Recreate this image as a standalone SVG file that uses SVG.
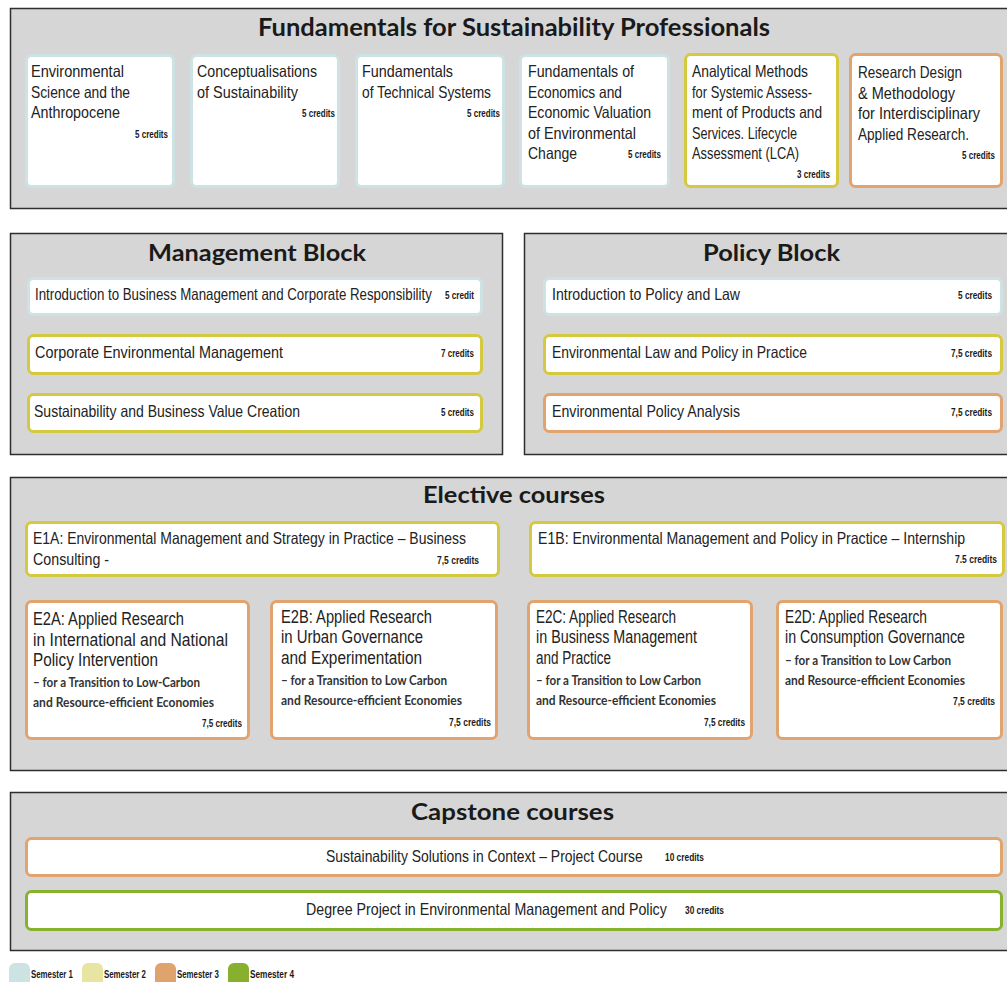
<svg xmlns="http://www.w3.org/2000/svg" width="1007" height="982" viewBox="0 0 1007 982">
<style>
.bg{fill:#ffffff}
.blk{fill:#d6d6d6;stroke:#2e2e2e;stroke-width:1.5}
.card{fill:#ffffff;stroke-width:3}
.s1{stroke:#cde3e3}
.s2{stroke:#d5c93f}
.s3{stroke:#e2a46e}
.s4{stroke:#87b22d}
.ttl{font-family:Lato,"Open Sans","Liberation Sans",sans-serif;font-weight:bold;fill:#1a1a1a;text-anchor:start}
.t{font-family:"Liberation Sans","DejaVu Sans",sans-serif;font-size:16.5px;fill:#222222}
.tb{font-family:"Liberation Sans","DejaVu Sans",sans-serif;font-size:17.5px;fill:#222222}
.sub{font-family:Lato,"Liberation Sans",sans-serif;font-weight:bold;font-size:13px;fill:#333333}
.cr{font-family:"Liberation Sans","DejaVu Sans",sans-serif;font-weight:bold;font-size:10px;fill:#1a1a1a}
.lg{font-family:"Liberation Sans","DejaVu Sans",sans-serif;font-weight:bold;font-size:10px;fill:#1a1a1a}
</style>
<rect class="bg" x="0" y="0" width="1007" height="982"/>

<g id="block-fundamentals">
<rect class="blk" x="10.5" y="8.5" width="1010" height="200"/>
<text class="ttl" x="258" y="36" font-size="25" textLength="512" lengthAdjust="spacingAndGlyphs">Fundamentals for Sustainability Professionals</text>
</g>
<g id="node-env-science">
<rect class="card s1" x="26.5" y="55.5" width="147" height="131" rx="5"/>
<text class="t" x="31" y="77" textLength="93" lengthAdjust="spacingAndGlyphs">Environmental</text>
<text class="t" x="31" y="97.5" textLength="99" lengthAdjust="spacingAndGlyphs">Science and the</text>
<text class="t" x="31" y="118" textLength="89" lengthAdjust="spacingAndGlyphs">Anthropocene</text>
<text class="cr" x="135" y="138" textLength="33" lengthAdjust="spacingAndGlyphs">5 credits</text>
</g>
<g id="node-conceptualisations">
<rect class="card s1" x="191.5" y="55.5" width="147" height="131" rx="5"/>
<text class="t" x="197" y="77" textLength="120" lengthAdjust="spacingAndGlyphs">Conceptualisations</text>
<text class="t" x="197" y="97.5" textLength="101" lengthAdjust="spacingAndGlyphs">of Sustainability</text>
<text class="cr" x="302" y="117" textLength="33" lengthAdjust="spacingAndGlyphs">5 credits</text>
</g>
<g id="node-technical-systems">
<rect class="card s1" x="356.5" y="55.5" width="147" height="131" rx="5"/>
<text class="t" x="362" y="77" textLength="91" lengthAdjust="spacingAndGlyphs">Fundamentals</text>
<text class="t" x="362" y="97.5" textLength="129" lengthAdjust="spacingAndGlyphs">of Technical Systems</text>
<text class="cr" x="467" y="117" textLength="33" lengthAdjust="spacingAndGlyphs">5 credits</text>
</g>
<g id="node-economics">
<rect class="card s1" x="520.5" y="55.5" width="148" height="131" rx="5"/>
<text class="t" x="528" y="77" textLength="106" lengthAdjust="spacingAndGlyphs">Fundamentals of</text>
<text class="t" x="528" y="97.5" textLength="94" lengthAdjust="spacingAndGlyphs">Economics and</text>
<text class="t" x="528" y="118" textLength="123" lengthAdjust="spacingAndGlyphs">Economic Valuation</text>
<text class="t" x="528" y="138.5" textLength="108" lengthAdjust="spacingAndGlyphs">of Environmental</text>
<text class="t" x="528" y="159" textLength="49" lengthAdjust="spacingAndGlyphs">Change</text>
<text class="cr" x="628" y="158" textLength="33" lengthAdjust="spacingAndGlyphs">5 credits</text>
</g>
<g id="node-lca">
<rect class="card s2" x="685.5" y="54.5" width="152" height="132" rx="5"/>
<text class="t" x="692" y="77" textLength="116" lengthAdjust="spacingAndGlyphs">Analytical Methods</text>
<text class="t" x="692" y="97.5" textLength="120" lengthAdjust="spacingAndGlyphs">for Systemic Assess-</text>
<text class="t" x="692" y="118" textLength="130" lengthAdjust="spacingAndGlyphs">ment of Products and</text>
<text class="t" x="692" y="138.5" textLength="105" lengthAdjust="spacingAndGlyphs">Services. Lifecycle</text>
<text class="t" x="692" y="159" textLength="107" lengthAdjust="spacingAndGlyphs">Assessment (LCA)</text>
<text class="cr" x="797" y="178" textLength="33" lengthAdjust="spacingAndGlyphs">3 credits</text>
</g>
<g id="node-research-design">
<rect class="card s3" x="850.5" y="54.5" width="151" height="132" rx="5"/>
<text class="t" x="858" y="78" textLength="104" lengthAdjust="spacingAndGlyphs">Research Design</text>
<text class="t" x="858" y="98.5" textLength="97" lengthAdjust="spacingAndGlyphs">&amp; Methodology</text>
<text class="t" x="858" y="119" textLength="122" lengthAdjust="spacingAndGlyphs">for Interdisciplinary</text>
<text class="t" x="858" y="139.5" textLength="111" lengthAdjust="spacingAndGlyphs">Applied Research.</text>
<text class="cr" x="962" y="159" textLength="33" lengthAdjust="spacingAndGlyphs">5 credits</text>
</g>

<g id="block-management">
<rect class="blk" x="10.5" y="233.5" width="492" height="221"/>
<text class="ttl" x="148" y="261" font-size="22" textLength="218" lengthAdjust="spacingAndGlyphs">Management Block</text>
</g>
<g id="node-intro-business">
<rect class="card s1" x="28.5" y="278.5" width="453" height="36" rx="5"/>
<text class="t" x="0" y="0" transform="translate(35,300) scale(0.8,1)" textLength="496" lengthAdjust="spacingAndGlyphs">Introduction to Business Management and Corporate Responsibility</text>
<text class="cr" x="445" y="299" textLength="29" lengthAdjust="spacingAndGlyphs">5 credit</text>
</g>
<g id="node-corp-env">
<rect class="card s2" x="28.5" y="335.5" width="453" height="38" rx="5"/>
<text class="t" x="35" y="358" textLength="248" lengthAdjust="spacingAndGlyphs">Corporate Environmental Management</text>
<text class="cr" x="441" y="357" textLength="33" lengthAdjust="spacingAndGlyphs">7 credits</text>
</g>
<g id="node-business-value">
<rect class="card s2" x="28.5" y="394.5" width="453" height="37" rx="5"/>
<text class="t" x="34" y="417" textLength="266" lengthAdjust="spacingAndGlyphs">Sustainability and Business Value Creation</text>
<text class="cr" x="441" y="416" textLength="33" lengthAdjust="spacingAndGlyphs">5 credits</text>
</g>

<g id="block-policy">
<rect class="blk" x="524.5" y="233.5" width="500" height="221"/>
<text class="ttl" x="703" y="261" font-size="22" textLength="137" lengthAdjust="spacingAndGlyphs">Policy Block</text>
</g>
<g id="node-intro-policy">
<rect class="card s1" x="544.5" y="278.5" width="457" height="36" rx="5"/>
<text class="t" x="552" y="300" textLength="188" lengthAdjust="spacingAndGlyphs">Introduction to Policy and Law</text>
<text class="cr" x="958" y="299" textLength="34" lengthAdjust="spacingAndGlyphs">5 credits</text>
</g>
<g id="node-env-law">
<rect class="card s2" x="544.5" y="335.5" width="457" height="38" rx="5"/>
<text class="t" x="552" y="358" textLength="255" lengthAdjust="spacingAndGlyphs">Environmental Law and Policy in Practice</text>
<text class="cr" x="951" y="357" textLength="41" lengthAdjust="spacingAndGlyphs">7,5 credits</text>
</g>
<g id="node-policy-analysis">
<rect class="card s3" x="544.5" y="394.5" width="457" height="37" rx="5"/>
<text class="t" x="552" y="417" textLength="188" lengthAdjust="spacingAndGlyphs">Environmental Policy Analysis</text>
<text class="cr" x="951" y="416" textLength="41" lengthAdjust="spacingAndGlyphs">7,5 credits</text>
</g>

<g id="block-elective">
<rect class="blk" x="10.5" y="477.5" width="1010" height="293"/>
<text class="ttl" x="423" y="503" font-size="22" textLength="182" lengthAdjust="spacingAndGlyphs">Elective courses</text>
</g>
<g id="node-e1a">
<rect class="card s2" x="26.5" y="522.5" width="472" height="53" rx="5"/>
<text class="t" x="33" y="544" textLength="433" lengthAdjust="spacingAndGlyphs">E1A: Environmental Management and Strategy in Practice – Business</text>
<text class="t" x="33" y="565" textLength="76" lengthAdjust="spacingAndGlyphs">Consulting -</text>
<text class="cr" x="437" y="564" textLength="42" lengthAdjust="spacingAndGlyphs">7,5 credits</text>
</g>
<g id="node-e1b">
<rect class="card s2" x="530.5" y="522.5" width="473" height="53" rx="5"/>
<text class="t" x="0" y="0" transform="translate(538,544) scale(0.8,1)" textLength="534" lengthAdjust="spacingAndGlyphs">E1B: Environmental Management and Policy in Practice – Internship</text>
<text class="cr" x="955" y="563" textLength="42" lengthAdjust="spacingAndGlyphs">7.5 credits</text>
</g>
<g id="node-e2a">
<rect class="card s3" x="26.5" y="601.5" width="222" height="137" rx="5"/>
<text class="tb" x="33" y="625" textLength="151" lengthAdjust="spacingAndGlyphs">E2A: Applied Research</text>
<text class="tb" x="33" y="646" textLength="195" lengthAdjust="spacingAndGlyphs">in International and National</text>
<text class="tb" x="33" y="666" textLength="125" lengthAdjust="spacingAndGlyphs">Policy Intervention</text>
<text class="sub" x="33" y="687" textLength="167" lengthAdjust="spacingAndGlyphs">– for a Transition to Low-Carbon</text>
<text class="sub" x="33" y="707" textLength="181" lengthAdjust="spacingAndGlyphs">and Resource-efficient Economies</text>
<text class="cr" x="202" y="727" textLength="40" lengthAdjust="spacingAndGlyphs">7,5 credits</text>
</g>
<g id="node-e2b">
<rect class="card s3" x="271.5" y="601.5" width="225" height="137" rx="5"/>
<text class="tb" x="281" y="623" textLength="151" lengthAdjust="spacingAndGlyphs">E2B: Applied Research</text>
<text class="tb" x="281" y="643" textLength="142" lengthAdjust="spacingAndGlyphs">in Urban Governance</text>
<text class="tb" x="281" y="664" textLength="141" lengthAdjust="spacingAndGlyphs">and Experimentation</text>
<text class="sub" x="281" y="685" textLength="166" lengthAdjust="spacingAndGlyphs">– for a Transition to Low Carbon</text>
<text class="sub" x="281" y="705" textLength="181" lengthAdjust="spacingAndGlyphs">and Resource-efficient Economies</text>
<text class="cr" x="449" y="726" textLength="42" lengthAdjust="spacingAndGlyphs">7,5 credits</text>
</g>
<g id="node-e2c">
<rect class="card s3" x="528.5" y="601.5" width="223" height="137" rx="5"/>
<text class="tb" x="536" y="623" textLength="140" lengthAdjust="spacingAndGlyphs">E2C: Applied Research</text>
<text class="tb" x="536" y="643" textLength="161" lengthAdjust="spacingAndGlyphs">in Business Management</text>
<text class="tb" x="536" y="664" textLength="75" lengthAdjust="spacingAndGlyphs">and Practice</text>
<text class="sub" x="536" y="685" textLength="165" lengthAdjust="spacingAndGlyphs">– for a Transition to Low Carbon</text>
<text class="sub" x="536" y="705" textLength="180" lengthAdjust="spacingAndGlyphs">and Resource-efficient Economies</text>
<text class="cr" x="704" y="726" textLength="41" lengthAdjust="spacingAndGlyphs">7,5 credits</text>
</g>
<g id="node-e2d">
<rect class="card s3" x="777.5" y="601.5" width="224" height="137" rx="5"/>
<text class="tb" x="785" y="623" textLength="142" lengthAdjust="spacingAndGlyphs">E2D: Applied Research</text>
<text class="tb" x="785" y="643" textLength="180" lengthAdjust="spacingAndGlyphs">in Consumption Governance</text>
<text class="sub" x="785" y="665" textLength="166" lengthAdjust="spacingAndGlyphs">– for a Transition to Low Carbon</text>
<text class="sub" x="785" y="685" textLength="180" lengthAdjust="spacingAndGlyphs">and Resource-efficient Economies</text>
<text class="cr" x="953" y="705" textLength="42" lengthAdjust="spacingAndGlyphs">7,5 credits</text>
</g>

<g id="block-capstone">
<rect class="blk" x="10.5" y="792.5" width="1010" height="158"/>
<text class="ttl" x="411" y="820" font-size="22" textLength="203" lengthAdjust="spacingAndGlyphs">Capstone courses</text>
</g>
<g id="node-solutions">
<rect class="card s3" x="26.5" y="838.5" width="975" height="37" rx="5"/>
<text class="t" x="0" y="0" transform="translate(326,862) scale(0.8,1)" textLength="396" lengthAdjust="spacingAndGlyphs">Sustainability Solutions in Context – Project Course</text>
<text class="cr" x="665" y="861" textLength="39" lengthAdjust="spacingAndGlyphs">10 credits</text>
</g>
<g id="node-degree-project">
<rect class="card s4" x="26.5" y="891.5" width="975" height="38" rx="5"/>
<text class="t" x="0" y="0" transform="translate(306,915) scale(0.8,1)" textLength="451" lengthAdjust="spacingAndGlyphs">Degree Project in Environmental Management and Policy</text>
<text class="cr" x="685" y="914" textLength="39" lengthAdjust="spacingAndGlyphs">30 credits</text>
</g>

<g id="legend">
<rect x="9" y="963" width="21" height="26" rx="6" fill="#cde3e3"/>
<text class="lg" x="31" y="978" textLength="42" lengthAdjust="spacingAndGlyphs">Semester 1</text>
<rect x="82" y="963" width="21" height="26" rx="6" fill="#e8e4a2"/>
<text class="lg" x="104" y="978" textLength="42" lengthAdjust="spacingAndGlyphs">Semester 2</text>
<rect x="155" y="963" width="21" height="26" rx="6" fill="#dfa46e"/>
<text class="lg" x="177" y="978" textLength="42" lengthAdjust="spacingAndGlyphs">Semester 3</text>
<rect x="228" y="963" width="21" height="26" rx="6" fill="#86b02d"/>
<text class="lg" x="250" y="978" textLength="44" lengthAdjust="spacingAndGlyphs">Semester 4</text>
</g>
<g id="connectors"></g>
</svg>
